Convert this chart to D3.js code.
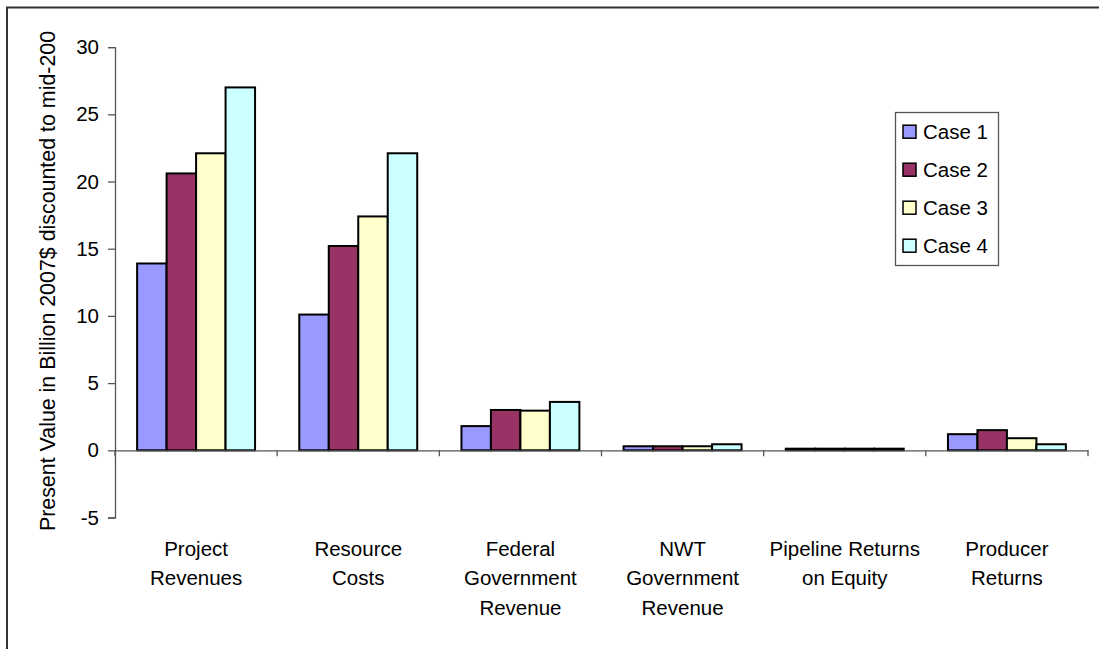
<!DOCTYPE html>
<html>
<head>
<meta charset="utf-8">
<script src="https://cdn.jsdelivr.net/npm/d3@7"></script>
<style>
  html, body { margin: 0; padding: 0; background: #fff; }
  svg { display: block; font-family: "Liberation Sans", Arial, sans-serif; }
</style>
</head>
<body>
<svg id="chart" width="1099" height="649"></svg>
<script>
// Categories (each label split into its printed lines)
const categories = [
  "Project Revenues",
  "Resource Costs",
  "Federal Government Revenue",
  "NWT Government Revenue",
  "Pipeline Returns on Equity",
  "Producer Returns"
];
const categoryLines = [
  ["Project", "Revenues"],
  ["Resource", "Costs"],
  ["Federal", "Government", "Revenue"],
  ["NWT", "Government", "Revenue"],
  ["Pipeline Returns", "on Equity"],
  ["Producer", "Returns"]
];

const seriesNames = ["Case 1", "Case 2", "Case 3", "Case 4"];

// Present value per category, one array per case
const case1 = [13.9, 10.1, 1.8, 0.3, 0.12, 1.2];
const case2 = [20.6, 15.2, 3.0, 0.3, 0.12, 1.5];
const case3 = [22.1, 17.4, 2.95, 0.3, 0.12, 0.9];
const case4 = [27.0, 22.1, 3.6, 0.45, 0.12, 0.45];
const seriesValues = [case1, case2, case3, case4];

const seriesColors = ["#9999FF", "#993366", "#FFFFCC", "#CCFFFF"];

const yTicks = [-5, 0, 5, 10, 15, 20, 25, 30];
const yTitle = "Present Value in Billion 2007$ discounted to mid-200";

const svg = d3.select("#chart");
const FONT = 20.5;

// Outer chart frame (only top and left edges fall inside the view)
svg.append("rect")
  .attr("x", 7).attr("y", 7.5)
  .attr("width", 1200).attr("height", 1000)
  .attr("fill", "#fff")
  .attr("stroke", "#333").attr("stroke-width", 2);

const plot = { left: 115, right: 1088, top: 47.1, bottom: 517.5 };

const y = d3.scaleLinear().domain([-5, 30]).range([plot.bottom, plot.top]);
const x0 = d3.scaleBand().domain(categories).range([plot.left, plot.right]).padding(0);

// Excel-style 150% gap between clusters
const gapRatio = 1.5;
const groupW = x0.bandwidth() * seriesNames.length / (seriesNames.length + gapRatio);
const groupOffset = (x0.bandwidth() - groupW) / 2;
const x1 = d3.scaleBand().domain(seriesNames).range([0, groupW]).padding(0);

// Bars
const groups = svg.append("g").selectAll("g")
  .data(categories)
  .join("g")
  .attr("transform", d => `translate(${x0(d) + groupOffset},0)`);

groups.selectAll("rect")
  .data((c, i) => seriesNames.map((s, k) => ({ s, k, v: seriesValues[k][i] })))
  .join("rect")
  .attr("x", d => x1(d.s))
  .attr("y", d => y(Math.max(0, d.v)))
  .attr("width", x1.bandwidth())
  .attr("height", d => Math.abs(y(d.v) - y(0)))
  .attr("fill", d => seriesColors[d.k])
  .attr("stroke", "#000")
  .attr("stroke-width", 2);

// Y axis (plain hyphen for negative labels)
const yAxis = d3.axisLeft(y).tickValues(yTicks).tickSize(7).tickPadding(9).tickFormat(d => String(d));
const yG = svg.append("g")
  .attr("transform", `translate(${plot.left},0)`)
  .call(yAxis);
yG.select(".domain").attr("stroke", "#555").attr("stroke-width", 1.3);
yG.selectAll(".tick line").attr("stroke", "#555").attr("stroke-width", 1.3);
yG.selectAll(".tick text")
  .attr("font-size", FONT)
  .attr("font-family", "Liberation Sans, Arial, sans-serif")
  .attr("fill", "#000");

// X axis along zero with ticks at category boundaries
const xAxis = d3.axisBottom(x0).tickSize(0).tickFormat("");
const xG = svg.append("g")
  .attr("transform", `translate(0,${y(0)})`)
  .call(xAxis);
xG.select(".domain").attr("stroke", "#555").attr("stroke-width", 1.3);
xG.selectAll(".tick").remove();

const boundaries = categories.map(c => x0(c)).concat([x0(categories[categories.length - 1]) + x0.bandwidth()]);
xG.selectAll("line.bound")
  .data(boundaries)
  .join("line")
  .attr("class", "bound")
  .attr("x1", d => d).attr("x2", d => d)
  .attr("y1", 0).attr("y2", 6)
  .attr("stroke", "#555").attr("stroke-width", 1.3);

// Category labels
const labelG = svg.append("g");
categories.forEach((c, i) => {
  const cx = x0(c) + x0.bandwidth() / 2;
  const t = labelG.append("text")
    .attr("x", cx)
    .attr("text-anchor", "middle")
    .attr("font-size", FONT)
    .attr("fill", "#000");
  categoryLines[i].forEach((ln, j) => {
    t.append("tspan").attr("x", cx).attr("y", 556 + j * 29.3).text(ln);
  });
});

// Y axis title
svg.append("text")
  .attr("transform", "translate(55,281) rotate(-90)")
  .attr("text-anchor", "middle")
  .attr("font-size", 21.4)
  .attr("fill", "#000")
  .text(yTitle);

// Legend
const legend = svg.append("g");
legend.append("rect")
  .attr("x", 895.5).attr("y", 112.5)
  .attr("width", 103).attr("height", 153)
  .attr("fill", "#fff")
  .attr("stroke", "#555").attr("stroke-width", 1.3);

const rowY = d3.scalePoint().domain(seriesNames).range([131.7, 245.7]);
const items = legend.selectAll("g.item")
  .data(seriesNames)
  .join("g")
  .attr("class", "item")
  .attr("transform", d => `translate(0,${rowY(d)})`);
items.append("rect")
  .attr("x", 903).attr("y", -6.5)
  .attr("width", 13).attr("height", 13)
  .attr("fill", (d, i) => seriesColors[i])
  .attr("stroke", "#000").attr("stroke-width", 1.5);
items.append("text")
  .attr("x", 923).attr("y", 7.5)
  .attr("font-size", FONT)
  .attr("fill", "#000")
  .text(d => d);
</script>
</body>
</html>
